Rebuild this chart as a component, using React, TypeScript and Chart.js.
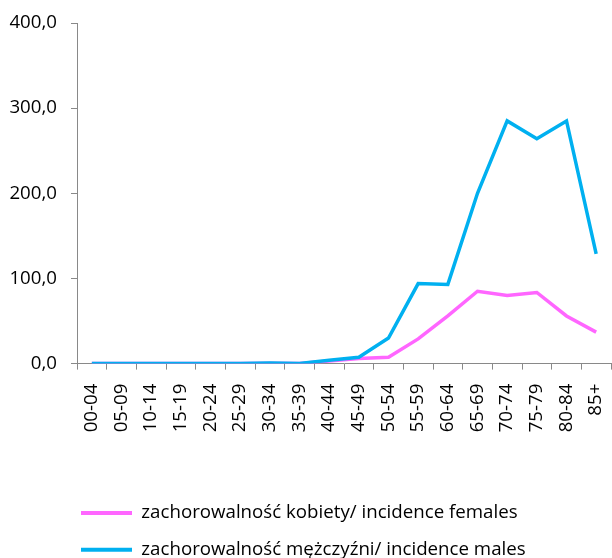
import React, { useEffect, useRef } from "react";
import { Chart, registerables } from "chart.js";

Chart.register(...registerables);

const categories = ["00-04","05-09","10-14","15-19","20-24","25-29","30-34","35-39","40-44","45-49","50-54","55-59","60-64","65-69","70-74","75-79","80-84","85+"];
const females = [0, 0, 0, 0, 0, 0, 0.5, 0.2, 3, 6, 7.5, 29, 56, 85, 80, 83.5, 56, 37];
const males = [0, 0, 0, 0, 0, 0, 0.8, 0.2, 4, 7.5, 30, 94, 93, 200, 285, 264, 285, 129];
const seriesLabels = ["zachorowalność kobiety/ incidence females", "zachorowalność mężczyźni/ incidence males"];
const yTicks = [0, 100, 200, 300, 400];

const PINK = "#FF66FF";
const BLUE = "#00B0F0";
const AXIS = "#898989";
const FONT = "'Open Sans', sans-serif";
const FS = 18.7;

const legendShift = {
  id: "legendShift",
  afterLayout(chart: any) {
    const lg = chart.legend;
    if (lg) {
      lg.left = 63;
      lg.top += 11;
      lg.bottom += 11;
    }
  },
};

export default function App() {
  const ref = useRef<HTMLCanvasElement>(null);
  useEffect(() => {
    if (!ref.current) return;
    const chart = new Chart(ref.current, {
      type: "line",
      data: {
        labels: categories,
        datasets: [
          {
            label: seriesLabels[0],
            data: females,
            borderColor: PINK,
            backgroundColor: PINK,
            borderWidth: 3.5,
            pointRadius: 0,
            tension: 0,
            order: 1,
          },
          {
            label: seriesLabels[1],
            data: males,
            borderColor: BLUE,
            backgroundColor: BLUE,
            borderWidth: 3.5,
            pointRadius: 0,
            tension: 0,
            order: 0,
          },
        ],
      },
      options: {
        responsive: false,
        devicePixelRatio: 1,
        animation: false,
        layout: { padding: { top: 23, right: 1, left: 0, bottom: 0 } },
        plugins: {
          tooltip: { enabled: false },
          legend: {
            position: "bottom",
            align: "start",
            labels: {
              boxWidth: 51,
              boxHeight: 4,
              padding: 18,
              color: "#000",
              font: { family: FONT, size: FS },
              sort: (a: any, b: any) => a.datasetIndex - b.datasetIndex,
              generateLabels: (c: any) =>
                Chart.defaults.plugins.legend.labels.generateLabels(c).map((l: any) => ({ ...l, lineWidth: 0 })),
            },
          },
        },
        scales: {
          x: {
            type: "category",
            offset: true,
            afterFit: (s: any) => { s.height = 111; s.paddingRight = 0; s.paddingLeft = 0; },
            grid: { offset: true, drawOnChartArea: false, drawTicks: true, tickLength: 6, color: AXIS },
            border: { display: true, color: AXIS, width: 1 },
            ticks: {
              minRotation: 90,
              maxRotation: 90,
              autoSkip: false,
              padding: 14,
              color: "#000",
              font: { family: FONT, size: FS },
            },
          },
          y: {
            min: 0,
            max: 400,
            afterFit: (s: any) => { s.width = 77; s.paddingTop = 0; s.paddingBottom = 0; },
            afterBuildTicks: (s: any) => { s.ticks = yTicks.map((v) => ({ value: v })); },
            grid: { drawOnChartArea: false, drawTicks: true, tickLength: 6, color: AXIS },
            border: { display: true, color: AXIS, width: 1 },
            ticks: {
              padding: 14,
              color: "#000",
              font: { family: FONT, size: FS },
              callback: (v: any) => Number(v).toFixed(1).replace(".", ","),
            },
          },
        },
      },
      plugins: [legendShift],
    });
    return () => chart.destroy();
  }, []);
  return (
    <div style={{ position: "fixed", left: 0, top: 0, width: 612, height: 558, background: "#fff" }}>
      <canvas ref={ref} width={612} height={558} />
    </div>
  );
}
